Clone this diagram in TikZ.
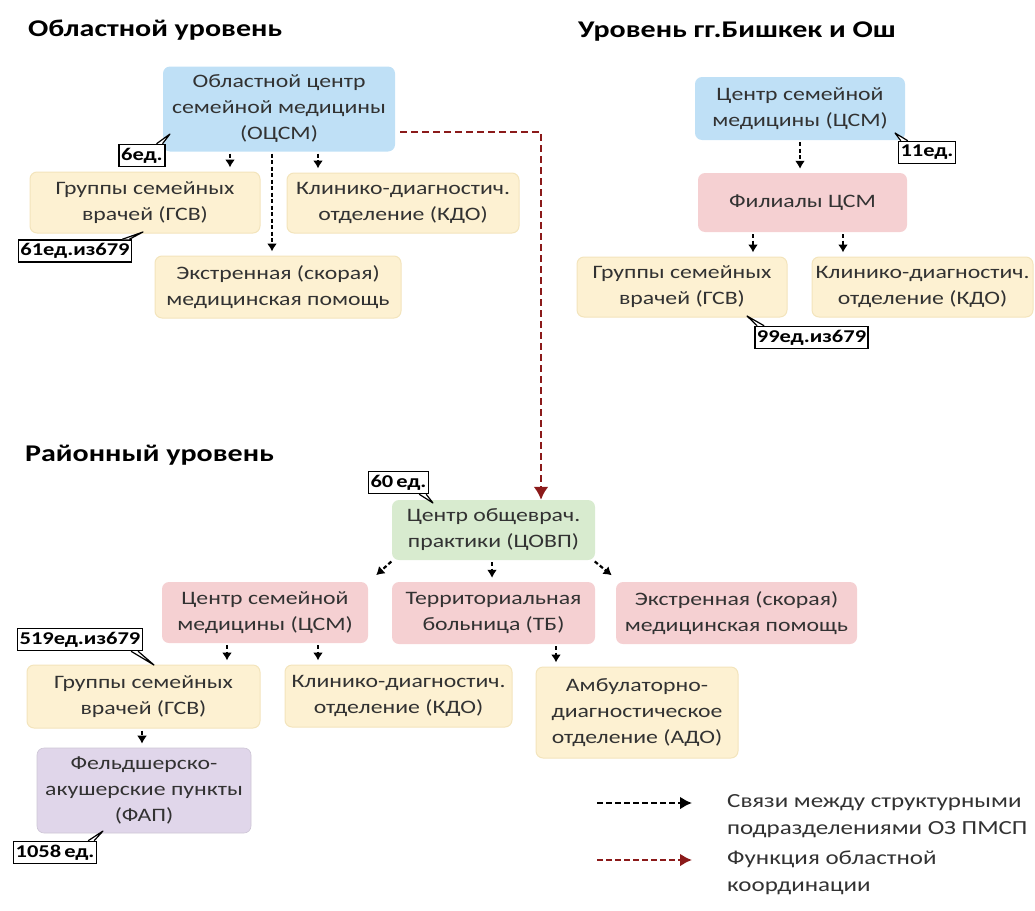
\documentclass[tikz,border=0pt]{standalone}
\usepackage{fontspec}
\setmainfont{Carlito}[FakeStretch=1.25]
\usepackage{tikz}
\usetikzlibrary{positioning}
\usetikzlibrary{arrows.meta}
\definecolor{blueFill}{RGB}{191,224,246}
\definecolor{yellowFill}{RGB}{253,241,210}
\definecolor{yellowLine}{RGB}{243,228,188}
\definecolor{pinkFill}{RGB}{245,208,210}
\definecolor{greenFill}{RGB}{216,235,207}
\definecolor{lilacFill}{RGB}{224,214,234}
\definecolor{darkRed}{RGB}{139,26,26}
\definecolor{textGray}{RGB}{50,50,50}

\begin{document}
\begin{tikzpicture}[x=1pt,y=-1pt,
  box/.style={rounded corners=7pt, align=center, text=textGray, inner sep=0pt,
    font=\fontsize{19}{26}\selectfont},
  blueBox/.style={box, fill=blueFill},
  yellowBox/.style={box, fill=yellowFill, draw=yellowLine, line width=1pt},
  pinkBox/.style={box, fill=pinkFill},
  greenBox/.style={box, fill=greenFill},
  lilacBox/.style={box, fill=lilacFill, draw=lilacFill!80!gray, line width=.6pt},
  tag/.style={draw, line width=1.5pt, fill=white, inner xsep=2pt, inner ysep=1pt,
    minimum height=22pt, font=\fontsize{18}{20}\selectfont\bfseries},
  tail/.style={draw, line width=1.2pt, fill=white, line join=round},
  link/.style={line width=2.2pt, dash pattern=on 4pt off 2.5pt,
    -{Latex[length=8pt,width=10pt]}, shorten <=2pt, shorten >=4pt},
  bigLink/.style={link, line width=2.8pt},
  redLink/.style={line width=2.8pt, darkRed, dash pattern=on 7pt off 4pt,
    -{Latex[length=13pt,width=15pt]}},
  title/.style={anchor=west, inner sep=0pt, font=\fontsize{24}{28}\selectfont\bfseries},
  legendText/.style={anchor=west, align=left, inner sep=0pt, text=textGray,
    font=\fontsize{20}{27}\selectfont},
]
\useasboundingbox (0,0) rectangle (1035,910);

\node[title] (tA) at (28,30) {Областной уровень};
\node[title] (tB) at (578,32) {Уровень гг.Бишкек и Ош};
\node[title] (tC) at (25,455) {Районный уровень};

% oblast level
\node[blueBox, minimum width=232pt, minimum height=85pt] (ocsm) at (279,109) {Областной центр\\семейной медицины\\(ОЦСМ)};
\node[yellowBox, minimum width=230pt, minimum height=61pt] (gsvA) at (145,202.5) {Группы семейных\\врачей (ГСВ)};
\node[yellowBox, minimum width=232pt, minimum height=60pt] (kdoA) at (403,203) {Клинико-диагностич.\\отделение (КДО)};
\node[yellowBox, minimum width=246pt, minimum height=62pt] (emgA) at (278,287) {Экстренная (скорая)\\медицинская помощь};

\draw[link] (ocsm.south -| 230,0) -- (gsvA.north -| 230,0);
\draw[bigLink] (ocsm.south -| 272,0) -- (emgA.north -| 272,0);
\draw[link] (ocsm.south -| 318,0) -- (kdoA.north -| 318,0);

% Bishkek and Osh
\node[blueBox, minimum width=210pt, minimum height=63pt] (csmB) at (800,108.5) {Центр семейной\\медицины (ЦСМ)};
\node[pinkBox, minimum width=209pt, minimum height=59pt] (filB) at (802.5,202.5) {Филиалы ЦСМ};
\node[yellowBox, minimum width=210pt, minimum height=60pt] (gsvB) at (682,287) {Группы семейных\\врачей (ГСВ)};
\node[yellowBox, minimum width=221pt, minimum height=60pt] (kdoB) at (922.5,287) {Клинико-диагностич.\\отделение (КДО)};

\draw[bigLink] (csmB.south -| 800,0) -- (filB.north -| 800,0);
\draw[link] (filB.south -| 753,0) -- (gsvB.north -| 753,0);
\draw[link] (filB.south -| 843,0) -- (kdoB.north -| 843,0);

% rayon level
\node[greenBox, minimum width=203pt, minimum height=60pt] (covp) at (493.5,530) {Центр общеврач.\\практики (ЦОВП)};
\node[pinkBox, minimum width=206pt, minimum height=61pt] (csmC) at (265,612.5) {Центр семейной\\медицины (ЦСМ)};
\node[pinkBox, minimum width=203pt, minimum height=62pt] (tbC) at (493.5,613) {Территориальная\\больница (ТБ)};
\node[pinkBox, minimum width=241pt, minimum height=62pt] (emgC) at (736.5,613) {Экстренная (скорая)\\медицинская помощь};
\node[yellowBox, minimum width=233pt, minimum height=63pt] (gsvC) at (143.5,696.5) {Группы семейных\\врачей (ГСВ)};
\node[yellowBox, minimum width=227pt, minimum height=62pt] (kdoC) at (398.5,696) {Клинико-диагностич.\\отделение (КДО)};
\node[yellowBox, minimum width=202pt, minimum height=91pt] (adoC) at (637,712.5) {Амбулаторно-\\диагностическое\\отделение (АДО)};
\node[lilacBox, minimum width=214pt, minimum height=85pt] (fapC) at (144,790.5) {Фельдшерско-\\акушерские пункты\\(ФАП)};

\draw[redLink] ([xshift=5pt]ocsm.east |- 0,132) -- (541,132) -- (covp.north -| 541,0);

\draw[link] ([xshift=1pt]covp.south west) -- ([xshift=5pt,yshift=4pt]csmC.north east);
\draw[link] (covp.south -| 492,0) -- (tbC.north -| 492,0);
\draw[link] ([xshift=-2pt]covp.south east) -- ([xshift=-1pt,yshift=4pt]emgC.north west);
\draw[link] (csmC.south -| 227,0) -- (gsvC.north -| 227,0);
\draw[link] (csmC.south -| 318,0) -- (kdoC.north -| 318,0);
\draw[link] (tbC.south -| 556,0) -- (adoC.north -| 556,0);
\draw[link] (gsvC.south -| 142,0) -- (fapC.north -| 142,0);

% callouts
\node[tag] (n6) at (142,155.5) {6ед.};
\draw[tail] ([xshift=-9pt]n6.north east) -- (170,134) -- ([xshift=-3pt]n6.north east);
\node[tag] (n61) at (75,251) {61ед.из679};
\draw[tail] ([xshift=-10pt]n61.north east) -- (143,232) -- ([xshift=-3pt]n61.north east);
\node[tag] (n11) at (927,152.5) {11ед.};
\draw[tail] ([xshift=3pt]n11.north west) -- (895,133) -- ([xshift=10pt]n11.north west);
\node[tag] (n99) at (811.5,337.5) {99ед.из679};
\draw[tail] ([xshift=3pt]n99.north west) -- (747,316) -- ([xshift=10pt]n99.north west);
\node[tag] (n60) at (398.5,482.5) {60\,ед.};
\draw[tail] ([xshift=-10pt]n60.south east) -- (433,503) -- ([xshift=-3pt]n60.south east);
\node[tag] (n519) at (80,639.5) {519ед.из679};
\draw[tail] ([xshift=-12pt]n519.south east) -- (154,665) -- ([xshift=-5pt]n519.south east);
\node[tag] (n1058) at (55,852.5) {1058\,ед.};
\draw[tail] ([xshift=-9pt]n1058.north east) -- (103,831) -- ([xshift=-3pt]n1058.north east);

% legend
\coordinate (lgA) at (597,803);
\coordinate (lgB) at (692,803);
\coordinate (lgC) at (597,860);
\coordinate (lgD) at (692,860);
\draw[line width=2.6pt, dash pattern=on 6pt off 3pt, -{Latex[length=12pt,width=13pt]}] (lgA) -- (lgB);
\draw[line width=2.6pt, darkRed, dash pattern=on 6pt off 3pt, -{Latex[length=12pt,width=13pt]}] (lgC) -- (lgD);
\node[legendText] (lgTextA) at (727,816.5) {Связи между структурными\\подразделениями ОЗ ПМСП};
\node[legendText] (lgTextB) at (727,872.5) {Функция областной\\координации};
\end{tikzpicture}
\end{document}
